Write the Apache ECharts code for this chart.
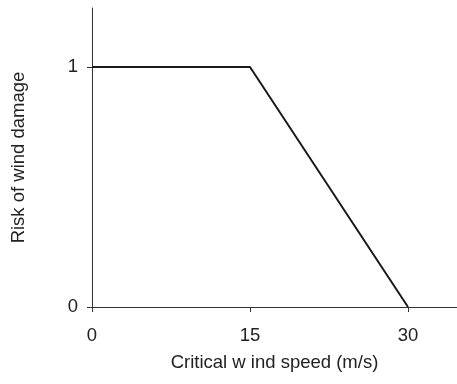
<!DOCTYPE html>
<html>
<head>
<meta charset="utf-8">
<script src="https://cdn.jsdelivr.net/npm/echarts@6/dist/echarts.min.js"></script>
<style>
  html, body { margin: 0; padding: 0; background: #fff; }
  #chart { width: 457px; height: 384px; }
</style>
</head>
<body>
<div id="chart"></div>
<script>
// wind speed (m/s) and risk
var speeds = [0, 15, 30];
var risk = [1, 1, 0];
var xTicks = [0, 15, 30];
var yTicks = [0, 1];

var chart = echarts.init(document.getElementById('chart'));
var font = 'Liberation Sans, Arial, sans-serif';

var option = {
    animation: false,
    grid: { left: 92, right: 0, top: 8, bottom: 77 },
    xAxis: {
        type: 'value',
        min: 0,
        max: 34.65,
        name: 'Critical w ind speed (m/s)',
        nameLocation: 'middle',
        nameGap: 46,
        nameTextStyle: { color: '#222', fontSize: 18.5, fontFamily: font },
        splitLine: { show: false },
        axisLine: { onZero: false, lineStyle: { color: '#333', width: 1 } },
        axisTick: { show: true, length: 5, customValues: xTicks, lineStyle: { color: '#333' } },
        axisLabel: { customValues: xTicks, margin: 19, color: '#222', fontSize: 18.5, fontFamily: font }
    },
    yAxis: {
        type: 'value',
        min: 0,
        max: 1.246,
        name: 'Risk of wind damage',
        nameLocation: 'middle',
        nameGap: 64,
        nameTextStyle: { color: '#222', fontSize: 18.5, fontFamily: font },
        splitLine: { show: false },
        axisLine: { show: true, lineStyle: { color: '#333', width: 1 } },
        axisTick: { show: true, length: 5, customValues: yTicks, lineStyle: { color: '#333' } },
        axisLabel: { customValues: yTicks, margin: 14, color: '#222', fontSize: 18.5, fontFamily: font }
    },
    series: [{
        type: 'line',
        data: speeds.map(function (s, i) { return [s, risk[i]]; }),
        symbol: 'none',
        lineStyle: { color: '#1a1a1a', width: 2 }
    }]
};

option && chart.setOption(option);
</script>
</body>
</html>
